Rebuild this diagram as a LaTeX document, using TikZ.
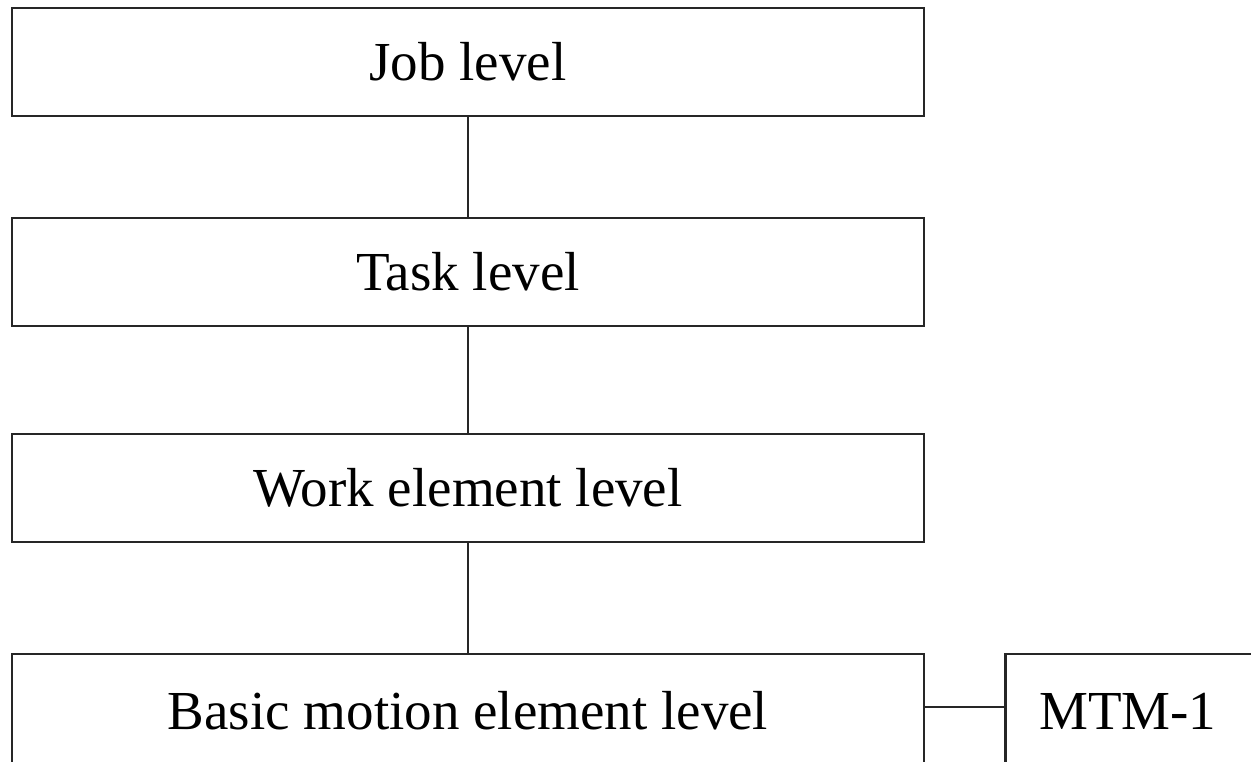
\documentclass[tikz,border=0pt]{standalone}
\usepackage{fontspec}
\setmainfont{Liberation Serif}
\begin{document}
\begin{tikzpicture}[x=1pt,y=1pt,
  levelbox/.style={draw=black!85, line width=2.5pt, minimum width=912pt, minimum height=108pt, inner sep=0pt, font=\fontsize{55pt}{66pt}\selectfont},
  link/.style={draw=black!85, line width=2.5pt}]
\useasboundingbox (0,0) rectangle (1251,761);
\node[levelbox] (job) at (468,699) {Job level};
\node[levelbox] (task) at (468,489) {Task level};
\node[levelbox] (work) at (468,273) {Work element level};
\node[levelbox, minimum height=114pt] (basic) at (468,50) {Basic motion element level};
\node[levelbox, minimum width=0pt, minimum height=114pt, anchor=west, text width=220pt, inner xsep=34pt, align=left] (mtm) at (1004,50) {MTM-1};
\draw[link] (job.south) -- (task.north);
\draw[link] (task.south) -- (work.north);
\draw[link] (work.south) -- (basic.north);
\draw[link] ([yshift=4pt]basic.east) -- ([yshift=4pt]mtm.west);
\end{tikzpicture}
\end{document}
